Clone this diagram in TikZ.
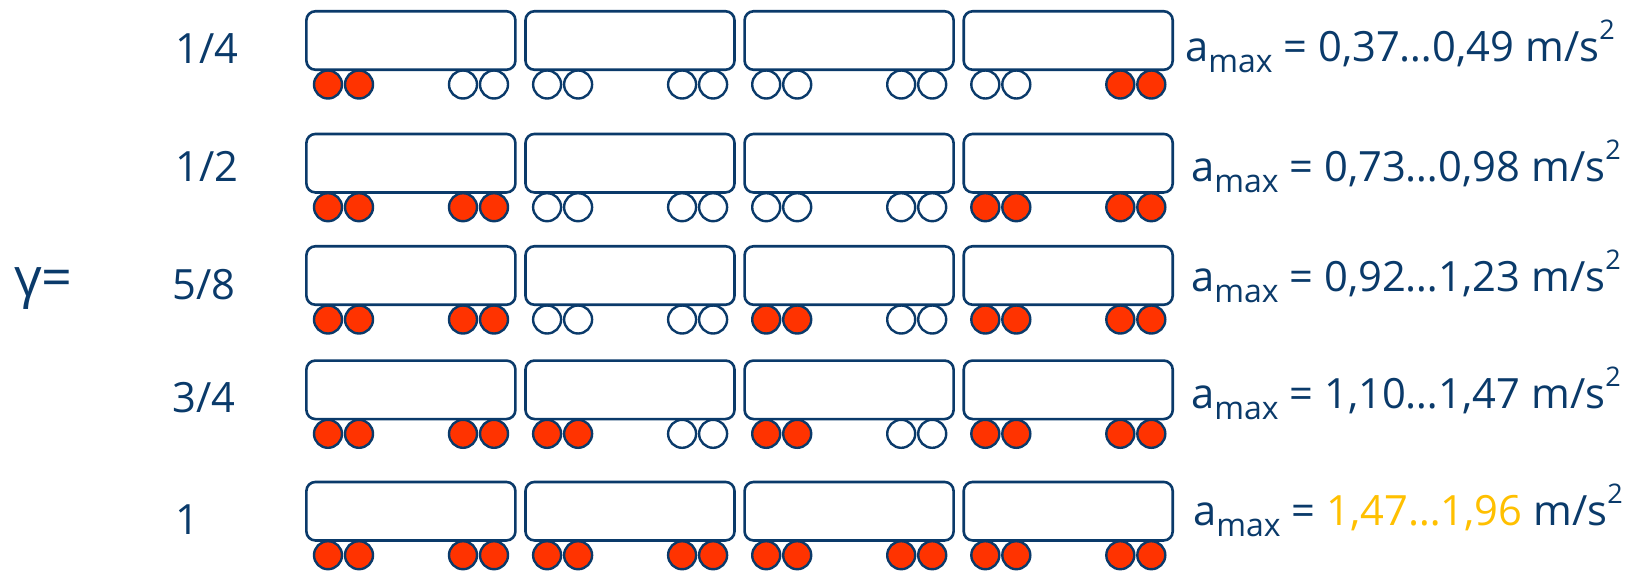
\documentclass[tikz,border=0pt]{standalone}
\usepackage{fontspec}
\setmainfont{Open Sans}
\definecolor{navy}{HTML}{0A3A6A}
\definecolor{brakered}{HTML}{FF3300}
\definecolor{gold}{HTML}{FFC000}
\newcommand{\amaxline}[1]{a\raisebox{-11pt}{\fontsize{32}{32}\selectfont max} = #1 m/s\raisebox{22pt}{\fontsize{27}{27}\selectfont 2}}
\begin{document}
\begin{tikzpicture}[x=1pt,y=-1pt,
  car/.style={draw=navy, line width=2.6pt, rounded corners=9pt, rectangle, minimum width=209pt, minimum height=58.5pt, inner sep=0pt, fill=white},
  wheel/.style={draw=navy, line width=2.4pt, circle, minimum size=28pt, inner sep=0pt},
  wheel0/.style={fill=white},
  wheel1/.style={fill=brakered},
  txt/.style={text=navy, inner sep=0pt, anchor=base west, font=\fontsize{41.7}{50}\selectfont},
  big/.style={text=navy, inner sep=0pt, anchor=base west, font=\fontsize{54}{64}\selectfont}]
\fill[white] (0,0) rectangle (1629,571);
\useasboundingbox (0,0) rectangle (1629,571);
\foreach \r/\T/\pat in {1/10/{1,0,0,0,0,0,0,1}, 2/132.7/{1,1,0,0,0,0,1,1}, 3/245/{1,1,0,0,1,0,1,1}, 4/359.3/{1,1,1,0,1,0,1,1}, 5/480.7/{1,1,1,1,1,1,1,1}}{
  \foreach \k in {0,1,2,3}{
    \node[car] (car-\r-\k) at ({305+219.1*\k+105.9},{\T+30.5}) {};
  }
  \foreach \b [count=\i from 0] in \pat {
    \pgfmathtruncatemacro{\kk}{floor(\i/2)}
    \pgfmathtruncatemacro{\ss}{mod(\i,2)}
    \pgfmathsetmacro{\xo}{305+219.1*\kk+(\ss==1 ? 158 : 23)}
    \node[wheel, wheel\b] (wheel-\r-\i-a) at (\xo,{\T+74.5}) {};
    \node[wheel, wheel\b] (wheel-\r-\i-b) at ({\xo+31},{\T+74.5}) {};
  }
}
\node[big] (gamma) at (14,296) {γ=};
\node[txt] (lab-1) at (175,63.3) {1/4};
\node[txt] (lab-2) at (175,181) {1/2};
\node[txt] (lab-3) at (172,299.3) {5/8};
\node[txt] (lab-4) at (172,412) {3/4};
\node[txt] (lab-5) at (175,534) {1};
\node[txt] (amax-1) at (1185,61.7) {\amaxline{0,37…0,49}};
\node[txt] (amax-2) at (1191,181) {\amaxline{0,73…0,98}};
\node[txt] (amax-3) at (1191,291.7) {\amaxline{0,92…1,23}};
\node[txt] (amax-4) at (1191,408.3) {\amaxline{1,10…1,47}};
\node[txt] (amax-5) at (1193,525) {\amaxline{\textcolor{gold}{1,47…1,96}}};
\end{tikzpicture}
\end{document}
